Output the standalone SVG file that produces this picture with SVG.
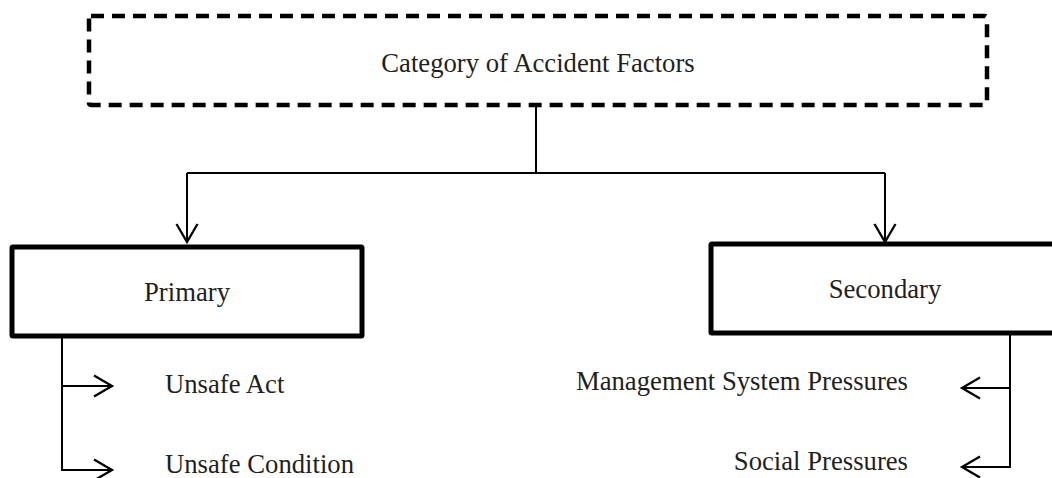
<svg xmlns="http://www.w3.org/2000/svg" width="1052" height="478" viewBox="0 0 1052 478">
<style>
.lbl{font-family:"Liberation Serif","Times New Roman",serif;font-size:26.7px;fill:#231f20}
.box{fill:#fff;stroke:#000;stroke-width:5;stroke-linejoin:round}
.dash{fill:#fff;stroke:#000;stroke-width:4.5;stroke-dasharray:13 8;stroke-linejoin:round}
.con{fill:none;stroke:#000;stroke-width:2}
</style>
<defs>
<marker id="arr" markerUnits="userSpaceOnUse" markerWidth="24" markerHeight="26" viewBox="-20 -13 24 26" refX="0" refY="0" orient="auto">
<path d="M-18,-10.5 L0,0 L-18,10.5" fill="none" stroke="#000" stroke-width="2.3"/>
</marker>
</defs>
<g id="connectors">
<path class="con" d="M536,106 V173"/>
<path class="con" d="M187,173 H885"/>
<path class="con" d="M187,173 V242" marker-end="url(#arr)"/>
<path class="con" d="M885,173 V242" marker-end="url(#arr)"/>
<path class="con" d="M62,338 V470 H112" marker-end="url(#arr)"/>
<path class="con" d="M62,386 H112" marker-end="url(#arr)"/>
<path class="con" d="M1010,334 V467 H962" marker-end="url(#arr)"/>
<path class="con" d="M1010,388 H962" marker-end="url(#arr)"/>
</g>
<g id="category">
<rect class="dash" x="89" y="16" width="898" height="89" rx="2"/>
<text class="lbl" x="538" y="72" text-anchor="middle">Category of Accident Factors</text>
</g>
<g id="primary">
<rect class="box" x="12" y="247" width="350" height="89" rx="1"/>
<text class="lbl" x="187" y="301" text-anchor="middle">Primary</text>
</g>
<g id="secondary">
<rect class="box" x="711" y="244" width="350" height="89" rx="1"/>
<text class="lbl" x="885" y="298" text-anchor="middle">Secondary</text>
</g>
<g id="unsafe-act"><text class="lbl" x="165" y="393">Unsafe Act</text></g>
<g id="unsafe-condition"><text class="lbl" x="165" y="473">Unsafe Condition</text></g>
<g id="management"><text class="lbl" x="908" y="390" text-anchor="end">Management System Pressures</text></g>
<g id="social"><text class="lbl" x="908" y="470" text-anchor="end">Social Pressures</text></g>
</svg>
